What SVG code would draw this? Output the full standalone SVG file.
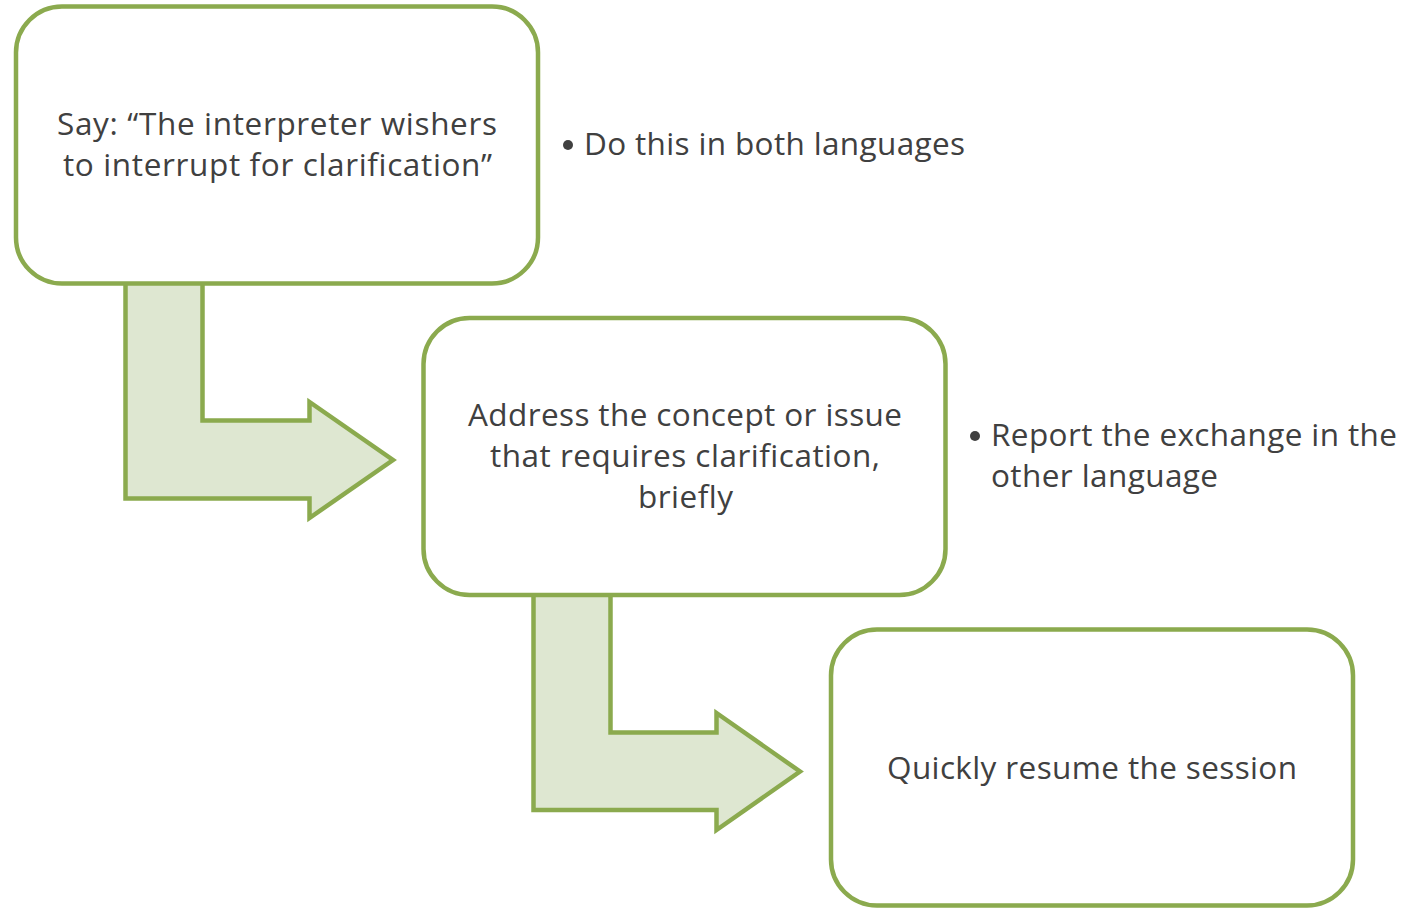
<svg xmlns="http://www.w3.org/2000/svg" width="1404" height="908" viewBox="0 0 1404 908">
<style>
.box{fill:#ffffff;stroke:#8BAA4E;stroke-width:4.5}
.arrow{fill:#DEE7D1;stroke:#8BAA4E;stroke-width:4.5;stroke-linejoin:miter}
.t{font-family:"Open Sans",Lato,"Liberation Sans",sans-serif;font-size:31.5px;fill:#404040;font-variant-ligatures:none}
.c{text-anchor:middle}
.dot{fill:#404040}
</style>
<rect width="1404" height="908" fill="#ffffff"/>
<g id="connectors">
<polygon class="arrow" points="125.5,280 202.5,280 202.5,420.5 309.5,420.5 309.5,402 393,460 309.5,518 309.5,498.5 125.5,498.5"/>
<polygon class="arrow" points="533.5,592 610.5,592 610.5,732.5 716.5,732.5 716.5,713 800,771.5 716.5,830 716.5,810 533.5,810"/>
</g>
<g id="node1">
<rect class="box" x="16" y="6.5" width="522" height="277" rx="46" ry="46"/>
<text class="t c" x="277" y="135" textLength="440">Say: “The interpreter wishers</text>
<text class="t c" x="277.5" y="176" textLength="429">to interrupt for clarification”</text>
</g>
<g id="note1">
<circle class="dot" cx="568" cy="145" r="5"/>
<text class="t" x="584" y="155" textLength="381">Do this in both languages</text>
</g>
<g id="node2">
<rect class="box" x="423.5" y="318" width="522" height="277" rx="46" ry="46"/>
<text class="t c" x="685" y="426" textLength="434">Address the concept or issue</text>
<text class="t c" x="685" y="467" textLength="390">that requires clarification,</text>
<text class="t c" x="685.5" y="508" textLength="95">briefly</text>
</g>
<g id="note2">
<circle class="dot" cx="975" cy="436" r="5"/>
<text class="t" x="991" y="446" textLength="406">Report the exchange in the</text>
<text class="t" x="991" y="487" textLength="227">other language</text>
</g>
<g id="node3">
<rect class="box" x="831" y="629.5" width="522" height="276" rx="46" ry="46"/>
<text class="t c" x="1092" y="779" textLength="410">Quickly resume the session</text>
</g>
</svg>
